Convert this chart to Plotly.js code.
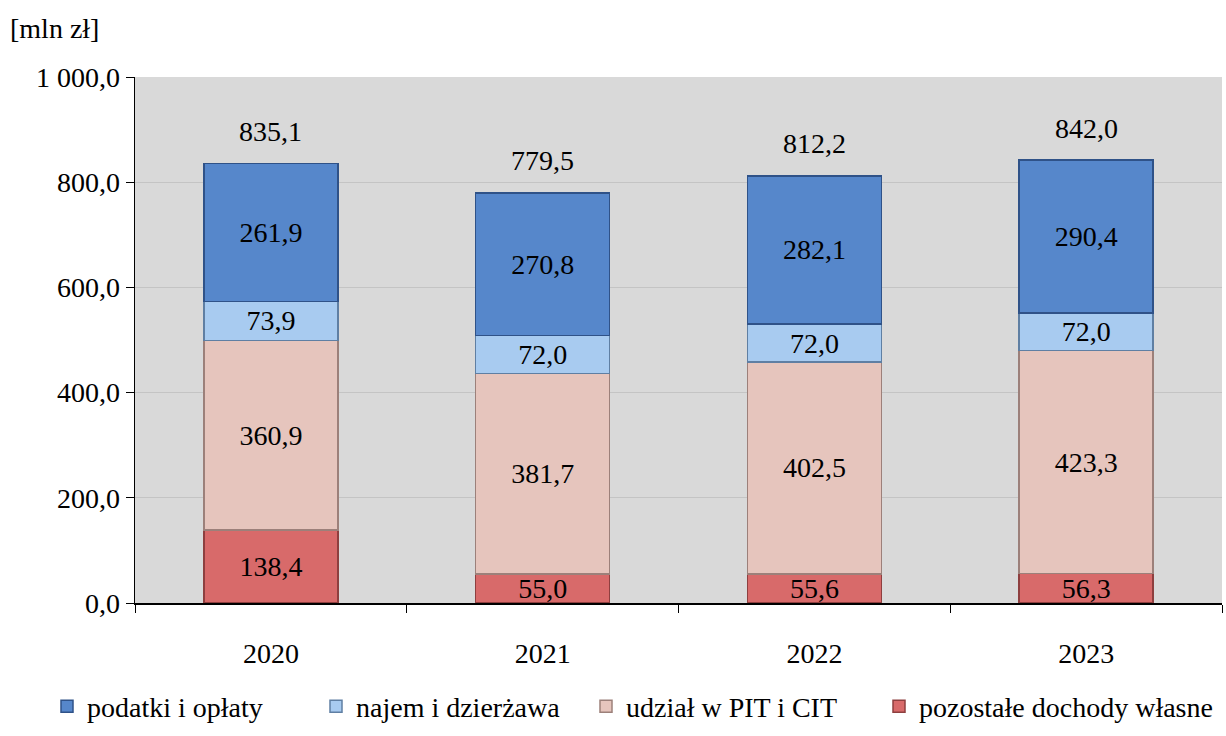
<!DOCTYPE html>
<html>
<head>
<meta charset="utf-8">
<script src="https://cdn.plot.ly/plotly-3.0.1.min.js"></script>
<style>html,body{margin:0;padding:0;background:#fff;}#chart{width:1226px;height:736px;}</style>
</head>
<body>
<div id="chart"></div>
<script>
const years = ['2020', '2021', '2022', '2023'];
const podatki = [261.9, 270.8, 282.1, 290.4];
const najem = [73.9, 72.0, 72.0, 72.0];
const udzial = [360.9, 381.7, 402.5, 423.3];
const pozostale = [138.4, 55.0, 55.6, 56.3];
const seriesNames = ['podatki i opłaty', 'najem i dzierżawa', 'udział w PIT i CIT', 'pozostałe dochody własne'];
const yTicks = [0, 200, 400, 600, 800, 1000];

const FONT = 'Liberation Serif, serif';
const FS = 28;
function bar(name, vals, color, line, legendId) {
  return {
    type: 'bar', name: name, x: years, y: vals, legend: legendId,
    marker: {color: color, line: {color: line, width: 1.5}},
    texttemplate: '%{y:.1f}', textposition: 'inside', insidetextanchor: 'middle',
    constraintext: 'none', cliponaxis: false,
    textfont: {family: FONT, size: FS, color: '#000'},
    hoverinfo: 'skip'
  };
}
const traces = [
  bar(seriesNames[3], pozostale, '#d86a6a', '#8e3f3f', 'legend4'),
  bar(seriesNames[2], udzial, '#e6c5bd', '#9c807a', 'legend3'),
  bar(seriesNames[1], najem, '#a8cbf0', '#5f7fa3', 'legend2'),
  bar(seriesNames[0], podatki, '#5687cb', '#2f5288', 'legend')
];
const totals = years.map((_, i) => podatki[i] + najem[i] + udzial[i] + pozostale[i]);
const fmt = v => v.toFixed(1).replace('.', ',');
const annotations = years.map((yr, i) => ({
  x: i, y: totals[i], xref: 'x', yref: 'y', text: fmt(totals[i]),
  showarrow: false, yanchor: 'middle', yshift: 32,
  font: {family: FONT, size: FS, color: '#000'}
}));
annotations.push({
  xref: 'paper', yref: 'paper', x: -0.117, y: 1.0, xanchor: 'left', yanchor: 'middle',
  yshift: 49, text: '[mln zł]', showarrow: false,
  font: {family: FONT, size: FS, color: '#000'}
});

function leg(px) {
  return {orientation: 'h', x: (px - 135) / 1087, xanchor: 'left', y: -0.197, yanchor: 'middle',
          font: {family: FONT, size: FS, color: '#000'}, itemwidth: 30, bgcolor: 'rgba(0,0,0,0)'};
}

const layout = {
  width: 1226, height: 736,
  margin: {l: 135, r: 4, t: 77, b: 122},
  paper_bgcolor: '#ffffff', plot_bgcolor: '#d9d9d9',
  separators: ', ',
  barmode: 'stack', bargap: 0.507,
  font: {family: FONT, size: FS, color: '#000'},
  showlegend: true,
  legend: leg(47), legend2: leg(316), legend3: leg(586), legend4: leg(879),
  xaxis: {type: 'category', range: [-0.5, 3.5], showline: true, linecolor: '#000', linewidth: 1.5,
          ticks: 'outside', tickson: 'boundaries', ticklen: 8, tickcolor: '#000', ticklabelstandoff: 25,
          tickfont: {family: FONT, size: FS}, showgrid: false, zeroline: false},
  yaxis: {range: [0, 1000], tickvals: yTicks, tickformat: ',.1f', showline: true, linecolor: '#000', linewidth: 1.5,
          ticks: 'outside', ticklen: 8, tickcolor: '#000', showgrid: true, gridcolor: '#c4c4c4', gridwidth: 1,
          zeroline: false, tickfont: {family: FONT, size: FS}},
  annotations: annotations
};
Plotly.newPlot('chart', traces, layout, {displayModeBar: false, staticPlot: true});
</script>
</body>
</html>
